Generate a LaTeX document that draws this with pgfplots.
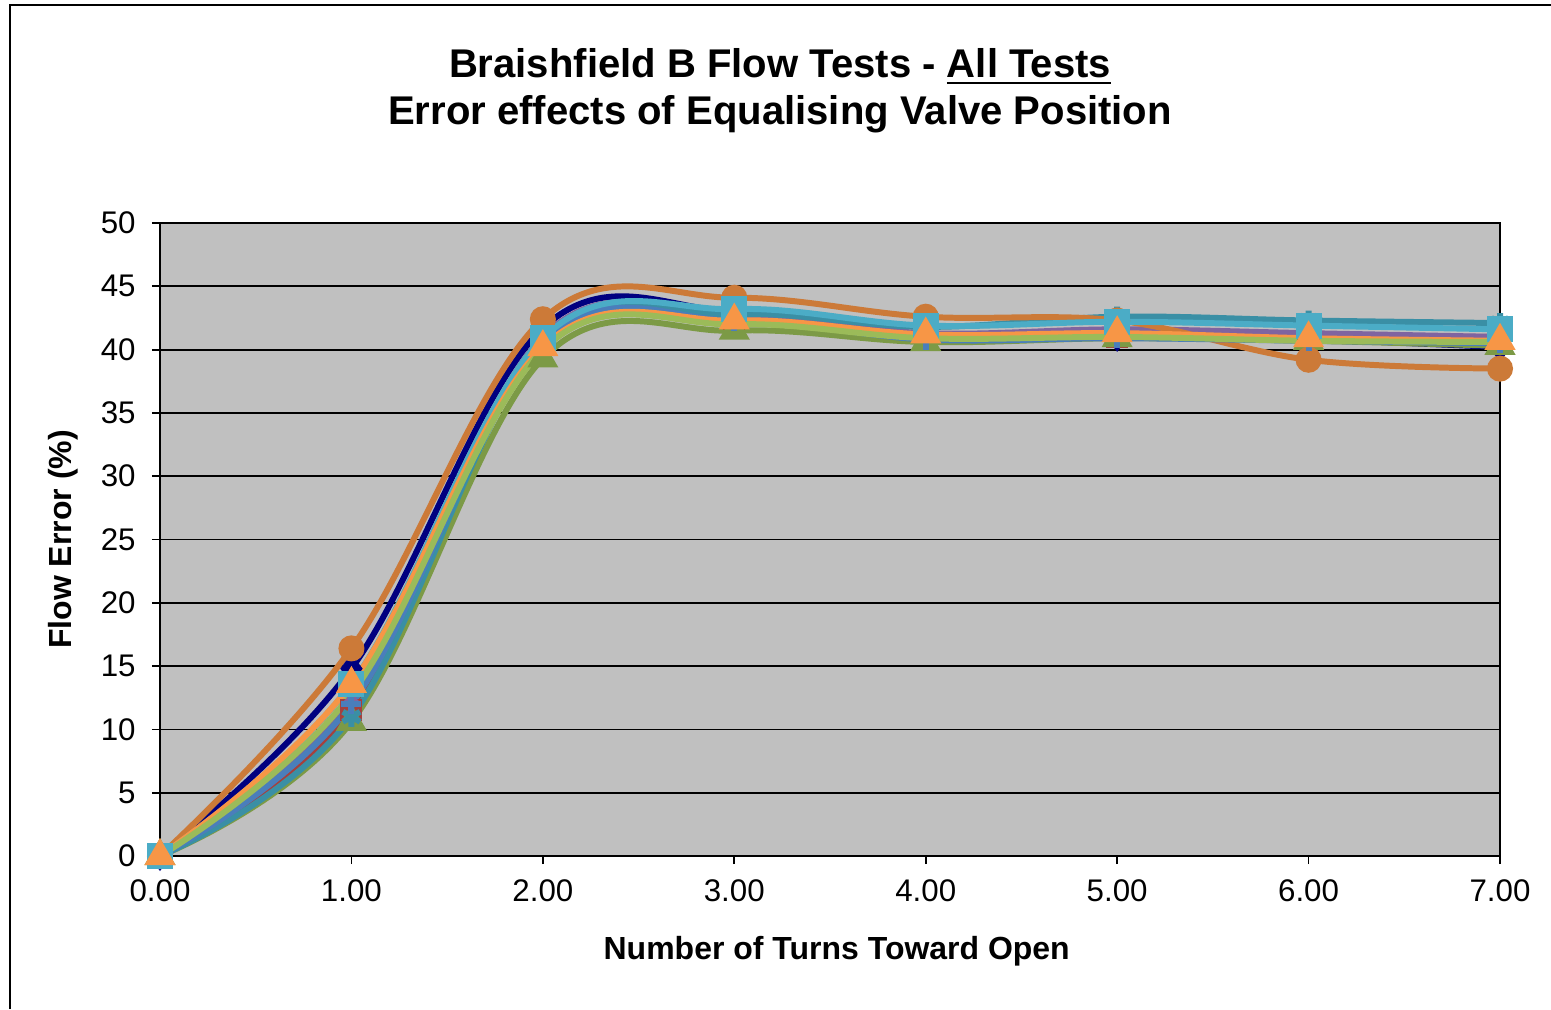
\documentclass[border=0pt]{standalone}
\usepackage{pgfplots}
\pgfplotsset{compat=1.18}
\usepackage{fontspec}
\setmainfont{Liberation Sans}
\usetikzlibrary{plotmarks}
\definecolor{cnavy}{HTML}{000080}
\definecolor{cred}{HTML}{A5403D}
\definecolor{cgreen}{HTML}{7C9A46}
\definecolor{cpurple}{HTML}{7F64A0}
\definecolor{cteal}{HTML}{3A8FA5}
\definecolor{corb}{HTML}{CC7A38}
\definecolor{cblue}{HTML}{4A7EBB}
\definecolor{clblue}{HTML}{4BACC6}
\definecolor{corange}{HTML}{F79646}
\definecolor{clgreen}{HTML}{9BBB59}
\definecolor{bg}{HTML}{C0C0C0}
\begin{document}
\begin{tikzpicture}
\useasboundingbox (0,0) rectangle (155.1mm,100.9mm);
\draw[black, line width=0.4pt] (1mm,0) -- (1mm,100.4mm) -- (155.1mm,100.4mm);
\begin{axis}[
  at={(16mm,15.3mm)}, anchor=south west,
  scale only axis, width=134mm, height=63.3mm,
  xmin=0, xmax=7, ymin=0, ymax=50,
  xtick={0,1,...,7}, ytick={0,5,...,50},
  xticklabel style={yshift=-0.3mm, /pgf/number format/.cd,fixed,fixed zerofill,precision=2},
  /pgf/number format/assume math mode=true,
  tick label style={font=\fontsize{8.9}{10}\selectfont},
  yticklabel style={xshift=-0.4mm},
  tick align=outside, major tick length=0.8mm,
  tick style={black, line width=0.5pt},
  xtick pos=bottom, ytick pos=left,
  axis background/.style={fill=bg},
  axis line style={black, line width=0.6pt},
  ymajorgrids, major grid style={black, line width=0.5pt},
  clip=false,
  title={\textbf{Braishfield B Flow Tests - \underline{All Tests}}\\\textbf{Error effects of Equalising Valve Position}},
  title style={font=\fontsize{11.4}{13.4}\selectfont, align=center, at={(axis description cs:0.4627,1.175)}, anchor=center},
  xlabel={\textbf{Number of Turns Toward Open}},
  xlabel style={font=\fontsize{9.1}{10}\selectfont, at={(axis description cs:0.505,-0.1505)}, anchor=center},
  ylabel={\textbf{Flow Error (\%)}},
  ylabel style={font=\fontsize{9.1}{10}\selectfont, at={(axis description cs:-0.0725,0.5)}, anchor=center, rotate=0},
  every axis plot/.append style={smooth, tension=0.6, line width=1.7pt, mark size=1.0mm, mark options={solid}},
]
\addplot[cnavy, mark=diamond*] coordinates {(0,0) (1,14.8) (2,41.7) (3,43.0) (4,41.2) (5,41.0) (6,40.8) (7,40.2)};
\addplot[cred, mark=square*, mark size=0.8mm] coordinates {(0,0) (1,11.5) (2,40.8) (3,42.4) (4,40.9) (5,41.0) (6,41.0) (7,41.0)};
\addplot[cgreen, mark=triangle*, mark size=1.2mm] coordinates {(0,0) (1,10.6) (2,39.3) (3,41.5) (4,40.6) (5,40.9) (6,40.7) (7,40.3)};
\addplot[cpurple, mark=x] coordinates {(0,0) (1,12.5) (2,41.0) (3,42.7) (4,41.3) (5,41.6) (6,41.3) (7,41.0)};
\addplot[cteal, mark=asterisk] coordinates {(0,0) (1,11.0) (2,40.6) (3,42.8) (4,41.8) (5,42.6) (6,42.3) (7,42.1)};
\addplot[corb, mark=*] coordinates {(0,0) (1,16.4) (2,42.4) (3,44.1) (4,42.6) (5,42.3) (6,39.2) (7,38.5)};
\addplot[cblue, mark=+] coordinates {(0,0) (1,12.0) (2,40.5) (3,42.3) (4,40.8) (5,40.9) (6,40.7) (7,40.5)};
\addplot[clblue, mark=square*] coordinates {(0,0) (1,13.6) (2,40.9) (3,43.2) (4,41.9) (5,42.2) (6,41.9) (7,41.6)};
\addplot[corange, mark=triangle*, mark size=1.2mm] coordinates {(0,0) (1,13.6) (2,40.2) (3,42.3) (4,41.2) (5,41.3) (6,40.9) (7,40.7)};
\addplot[clgreen, mark=none] coordinates {(0,0) (1,12.8) (2,40.0) (3,42.0) (4,40.9) (5,41.0) (6,40.7) (7,40.6)};
\end{axis}
\end{tikzpicture}
\end{document}
